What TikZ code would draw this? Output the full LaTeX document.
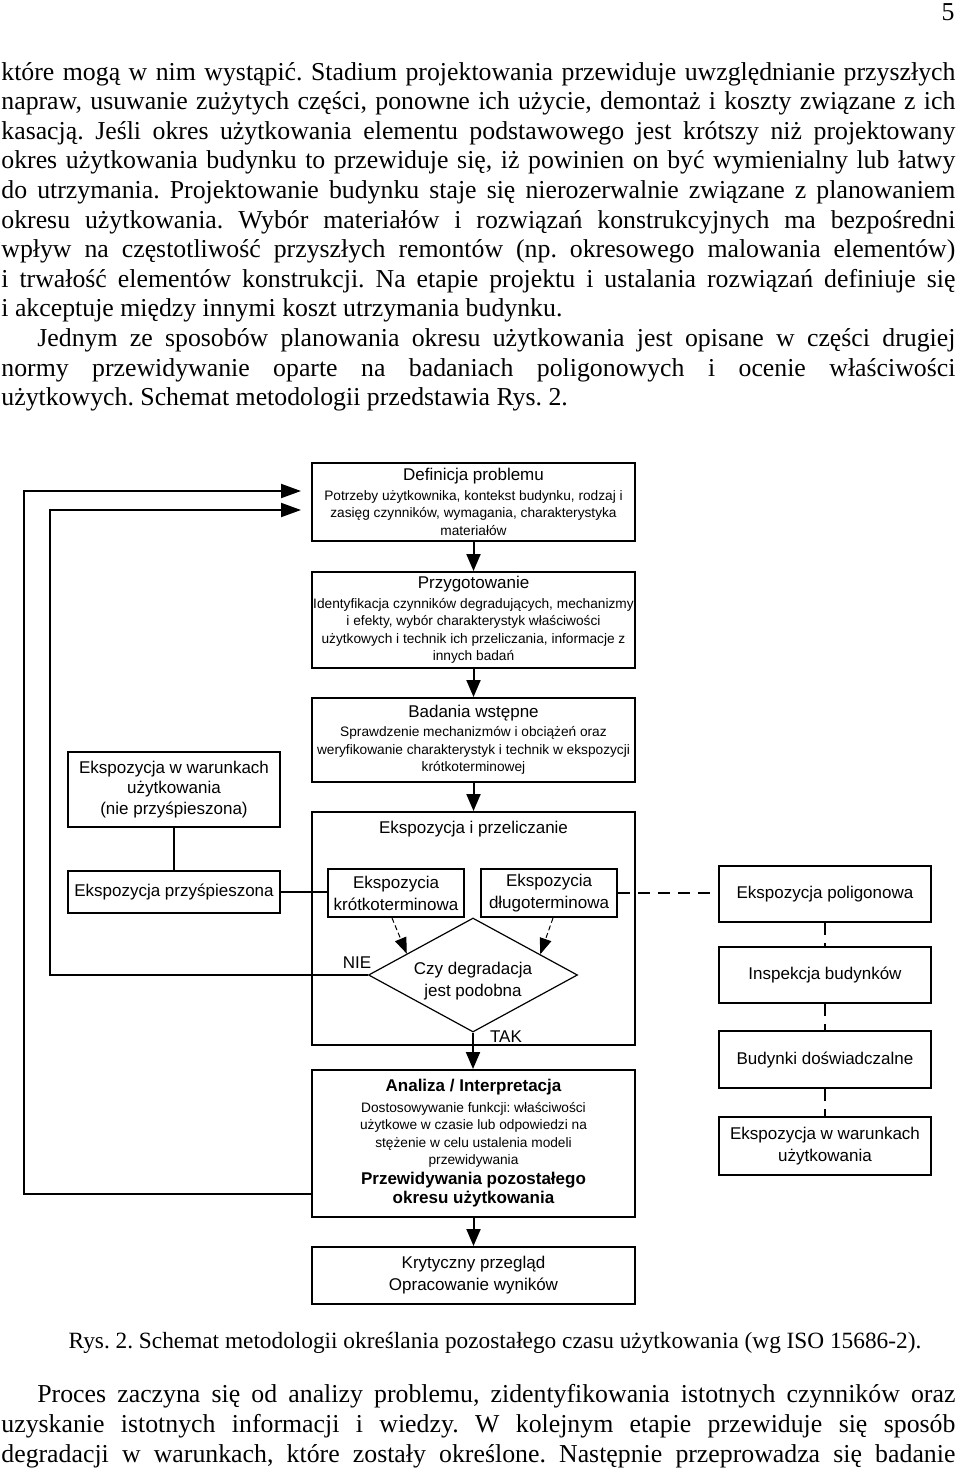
\documentclass[tikz,border=0pt]{standalone}
\usepackage{fontspec}
\setmainfont{Liberation Serif}
\newfontfamily\arialf{Liberation Sans}
\usetikzlibrary{shapes.geometric,arrows.meta,calc}
\frenchspacing

\newcommand\bodyf{\fontsize{12.9pt}{15pt}\selectfont}
\newcommand\capf{\fontsize{11.65pt}{14pt}\selectfont}
\newcommand\tfnt{\arialf\fontsize{8.5pt}{10.25pt}\selectfont}
\newcommand\dfnt{\arialf\fontsize{6.85pt}{8.75pt}\selectfont}
\newcommand\bfnt{\arialf\bfseries\fontsize{8.5pt}{10.25pt}\selectfont}
\newcommand\jline[2]{\makebox[#1][s]{#2}}

\begin{document}
\begin{tikzpicture}[x=0.5pt,y=-0.5pt,
  txt/.style={anchor=base west, inner sep=0pt, font=\bodyf},
  box/.style={draw, line width=1pt, inner sep=0pt, align=center, font=\dfnt},
  bigbox/.style={draw, line width=1pt, inner sep=0pt, align=center, font=\tfnt},
  lbl/.style={inner sep=0pt, align=center, font=\tfnt},
  arr/.style={line width=1pt, -{Triangle[length=8.5pt,width=7pt]}},
  fb/.style={line width=1pt, -{Triangle[length=10pt,width=7pt]}, shorten >=5pt},
  ln/.style={line width=1pt},
  dcon/.style={line width=0.6pt, dash pattern=on 6pt off 4pt},
  darr/.style={line width=0.5pt, dash pattern=on 2.5pt off 1.5pt, -{Triangle[length=8pt,width=6pt]}}
]
\useasboundingbox (0,0) rectangle (960,1472);

% ---- page number and upper text ----
\node[anchor=base east, inner sep=0pt, font=\bodyf] (pg) at (955,20) {5};
\node[txt] (t1) at (1,80) {\jline{477pt}{które mogą w nim wystąpić. Stadium projektowania przewiduje uwzględnianie przyszłych}};
\node[txt] (t2) at (1,109.6) {\jline{477pt}{napraw, usuwanie zużytych części, ponowne ich użycie, demontaż i koszty związane z ich}};
\node[txt] (t3) at (1,139.2) {\jline{477pt}{kasacją. Jeśli okres użytkowania elementu podstawowego jest krótszy niż projektowany}};
\node[txt] (t4) at (1,168.8) {\jline{477pt}{okres użytkowania budynku to przewiduje się, iż powinien on być wymienialny lub łatwy}};
\node[txt] (t5) at (1,198.4) {\jline{477pt}{do utrzymania. Projektowanie budynku staje się nierozerwalnie związane z planowaniem}};
\node[txt] (t6) at (1,228) {\jline{477pt}{okresu użytkowania. Wybór materiałów i rozwiązań konstrukcyjnych ma bezpośredni}};
\node[txt] (t7) at (1,257.6) {\jline{477pt}{wpływ na częstotliwość przyszłych remontów (np. okresowego malowania elementów)}};
\node[txt] (t8) at (1,287.2) {\jline{477pt}{i trwałość elementów konstrukcji. Na etapie projektu i ustalania rozwiązań definiuje się}};
\node[txt] (t9) at (1,316.8) {i akceptuje między innymi koszt utrzymania budynku.};
\node[txt] (t10) at (37,346.4) {\jline{459pt}{Jednym ze sposobów planowania okresu użytkowania jest opisane w części drugiej}};
\node[txt] (t11) at (1,376) {\jline{477pt}{normy przewidywanie oparte na badaniach poligonowych i ocenie właściwości}};
\node[txt] (t12) at (1,405.6) {użytkowych. Schemat metodologii przedstawia Rys. 2.};

% ---- centre column ----
\node[box, minimum width=161.5pt, minimum height=39pt] (b1) at (473.5,502)
  {{\tfnt Definicja problemu}\\[1pt]
   Potrzeby użytkownika, kontekst budynku, rodzaj i\\
   zasięg czynników, wymagania, charakterystyka\\
   materiałów};
\node[box, minimum width=161.5pt, minimum height=48pt] (b2) at (473.5,620)
  {{\tfnt Przygotowanie}\\[1pt]
   Identyfikacja czynników degradujących, mechanizmy\\
   i efekty, wybór charakterystyk właściwości\\
   użytkowych i technik ich przeliczania, informacje z\\
   innych badań};
\node[box, minimum width=161.5pt, minimum height=42pt] (b3) at (473.5,740)
  {{\tfnt Badania wstępne}\\[1pt]
   Sprawdzenie mechanizmów i obciążeń oraz\\
   weryfikowanie charakterystyk i technik w ekspozycji\\
   krótkoterminowej};
\node[box, minimum width=161.5pt, minimum height=116.5pt] (b4) at (473.5,928.5) {};
\node[lbl] (b4t) at (473.5,829) {Ekspozycja i przeliczanie};
\node[bigbox, minimum width=68pt, minimum height=24pt] (kr) at (396,893)
  {Ekspozycia\\[0.75pt]krótkoterminowa};
\node[bigbox, minimum width=68pt, minimum height=24pt] (dl) at (549,893)
  {Ekspozycia\\[0.75pt]długoterminowa};
\node[diamond, draw, line width=0.6pt, minimum width=104.5pt, minimum height=57pt, inner sep=0pt] (dia) at (473,975) {};
\node[lbl] (dtx) at (473,981) {Czy degradacja\\[0.75pt]jest podobna};
\node[lbl] (nie) at (357,963) {NIE};
\node[lbl] (tak) at (506,1037) {TAK};
\node[box, minimum width=161.5pt, minimum height=73.5pt] (ana) at (473.5,1143.5)
  {{\bfnt Analiza / Interpretacja}\\[1.5pt]
   Dostosowywanie funkcji: właściwości\\
   użytkowe w czasie lub odpowiedzi na\\
   stężenie w celu ustalenia modeli\\
   przewidywania\\[1.25pt]
   {\bfnt Przewidywania pozostałego}\\[0.75pt]
   {\bfnt okresu użytkowania}};
\node[bigbox, minimum width=161.5pt, minimum height=28.5pt] (last) at (473.5,1275.5)
  {Krytyczny przegląd\\[0.75pt]Opracowanie wyników};

% ---- left column ----
\node[bigbox, minimum width=105.75pt, minimum height=37.5pt] (lu) at (174,789.5)
  {Ekspozycja w warunkach\\użytkowania\\(nie przyśpieszona)};
\node[bigbox, minimum width=105.75pt, minimum height=21pt] (ll) at (174,892)
  {Ekspozycja przyśpieszona};

% ---- right column ----
\node[bigbox, minimum width=106pt, minimum height=28pt] (pol) at (825,894) {Ekspozycja poligonowa};
\node[bigbox, minimum width=106pt, minimum height=28pt] (insp) at (825,975) {Inspekcja budynków};
\node[bigbox, minimum width=106pt, minimum height=28.5pt] (bud) at (825,1059.5) {Budynki doświadczalne};
\node[bigbox, minimum width=106pt, minimum height=29pt] (ekw) at (825,1146)
  {Ekspozycja w warunkach\\[0.5pt]użytkowania};

% ---- connectors ----
\draw[arr] (b1.south) -- (b2.north);
\draw[arr] (b2.south) -- (b3.north);
\draw[arr] (b3.south) -- (b4.north);
\draw[arr] (dia.south) -- (dia.south |- ana.north);
\draw[arr] (ana.south) -- (last.north);
\draw[ln] (lu.south) -- (ll.north);
\draw[ln] (ll.east) -- (ll.east -| kr.west);
\draw[dcon] (dl.east) -- (dl.east -| pol.west);
\draw[dcon] (pol.south) -- (insp.north);
\draw[dcon] (insp.south) -- (bud.north);
\draw[dcon] (bud.south) -- (ekw.north);
\draw[darr] ($(kr.south)+(-4,0)$) -- ($(dia.west)!0.37!(dia.north)$);
\draw[darr] ($(dl.south)+(4,0)$) -- ($(dia.north)!0.64!(dia.east)$);
\coordinate (fbi) at (50,700);
\coordinate (fbo) at (24,800);
\draw[fb] (dia.west) -| (fbi) |- ($(b1.west)+(0,8)$);
\draw[fb] ($(ana.south west)+(0,-24)$) -| (fbo) |- ($(b1.west)+(0,-11)$);

% ---- caption and lower text ----
\node[anchor=base, inner sep=0pt, font=\capf] (cap) at (495,1348)
  {Rys. 2. Schemat metodologii określania pozostałego czasu użytkowania (wg ISO 15686-2).};
\node[txt] (u1) at (37,1402) {\jline{459pt}{Proces zaczyna się od analizy problemu, zidentyfikowania istotnych czynników oraz}};
\node[txt] (u2) at (1,1432) {\jline{477pt}{uzyskanie istotnych informacji i wiedzy. W kolejnym etapie przewiduje się sposób}};
\node[txt] (u3) at (1,1462) {\jline{477pt}{degradacji w warunkach, które zostały określone. Następnie przeprowadza się badanie}};
\end{tikzpicture}
\end{document}
